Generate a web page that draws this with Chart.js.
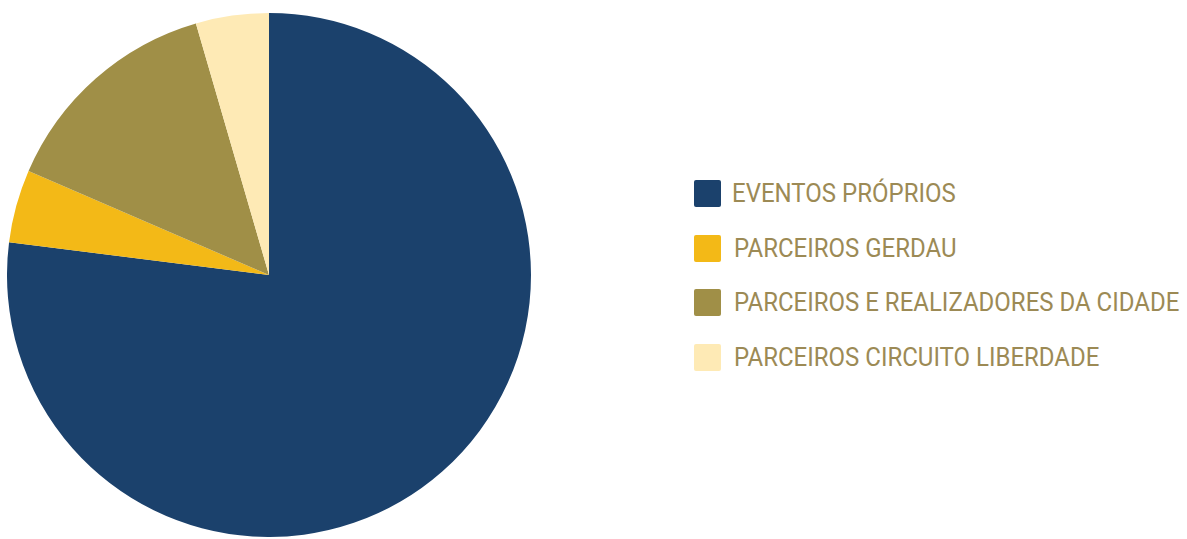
<!DOCTYPE html>
<html lang="pt">
<head>
<meta charset="UTF-8">
<title>Eventos</title>
<script src="https://cdn.jsdelivr.net/npm/chart.js"></script>
<style>
    body { margin: 0; background: #fff; font-family: Roboto, Arial, sans-serif; }
    .wrap { position: relative; width: 1187px; height: 539px; overflow: hidden; }
    .pie { position: absolute; left: 7px; top: 13px; width: 524px; height: 524px; }
    .legend { position: absolute; left: 694px; top: 180px; }
    .item { display: flex; align-items: center; height: 27px; margin-bottom: 27.5px; }
    .box { width: 27px; height: 27px; border-radius: 2px; flex: none; }
    .label { margin-left: 13px; color: #9c8a55; font-size: 25px; transform: scaleX(0.96); transform-origin: left center; white-space: nowrap; }
    .item:first-child .label { margin-left: 11px; }
</style>
</head>
<body>
<div class="wrap">
    <div class="pie"><canvas id="pieChart"></canvas></div>
    <div class="legend" id="legend"></div>
</div>
<script>
const labels = ['EVENTOS PRÓPRIOS', 'PARCEIROS GERDAU', 'PARCEIROS E REALIZADORES DA CIDADE', 'PARCEIROS CIRCUITO LIBERDADE'];
const values = [77, 4.5, 14, 4.5];
const colors = ['#1b416c', '#f3b917', '#a08f47', '#feeab5'];

const legend = document.getElementById('legend');
labels.forEach((l, i) => {
    const item = document.createElement('div');
    item.className = 'item';
    item.innerHTML = '<span class="box" style="background:' + colors[i] + '"></span><span class="label">' + l + '</span>';
    legend.appendChild(item);
});

new Chart(document.getElementById('pieChart'), {
    type: 'pie',
    data: { labels, datasets: [{ data: values, backgroundColor: colors, borderWidth: 0 }] },
    options: {
        responsive: true,
        maintainAspectRatio: false,
        animation: false,
        layout: { padding: 0 },
        plugins: { legend: { display: false }, tooltip: { enabled: false } }
    }
});
</script>
</body>
</html>
